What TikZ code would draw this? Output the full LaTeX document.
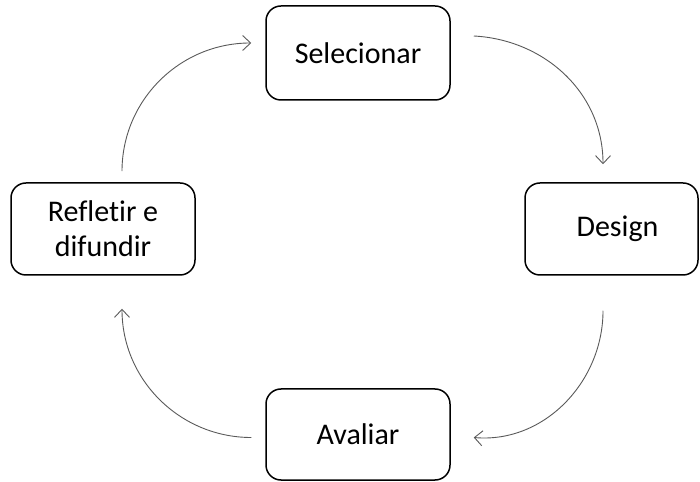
\documentclass[tikz,border=0pt]{standalone}
\usepackage{fontspec}
\setmainfont[Ligatures=CommonOff]{Carlito}
\usetikzlibrary{arrows.meta,calc}
\begin{document}
\begin{tikzpicture}[x=1pt,y=1pt,
  stage/.style={draw=black, line width=1.5pt, rounded corners=15pt,
    inner sep=0pt, align=center,
    font=\fontsize{30}{35}\selectfont},
  flow/.style={draw=black!65, line width=0.9pt,
    -{Straight Barb[length=8pt,width=15pt,line width=0.9pt]}}]
  \useasboundingbox (0,0) rectangle (700,481);
  % the four stages of the cycle
  \node[stage, minimum width=184pt, minimum height=94pt] (sel) at (358,428) {Selecionar};
  \node[stage, minimum width=173pt, minimum height=92pt] (des) at (611.5,252) {\hspace*{12pt}Design};
  \node[stage, minimum width=184pt, minimum height=91pt] (ava) at (358,46.5) {Avaliar};
  \node[stage, minimum width=184pt, minimum height=92pt] (ref) at (103,252) {Refletir e\\difundir};
  % curved arrows running clockwise
  \draw[flow] ($(sel.east)+(23,17)$) to[out=-3,in=90] ($(des.north)+(-8.5,18)$);
  \draw[flow] ($(des.south)+(-8.5,-35)$) to[out=-90,in=-5] ($(ava.east)+(23,-3)$);
  \draw[flow] ($(ava.west)+(-14,-3)$) to[out=180,in=-90] ($(ref.south)+(19,-33)$);
  \draw[flow] ($(ref.north)+(19,11)$) to[out=90,in=180] ($(sel.west)+(-14,10)$);
\end{tikzpicture}
\end{document}
